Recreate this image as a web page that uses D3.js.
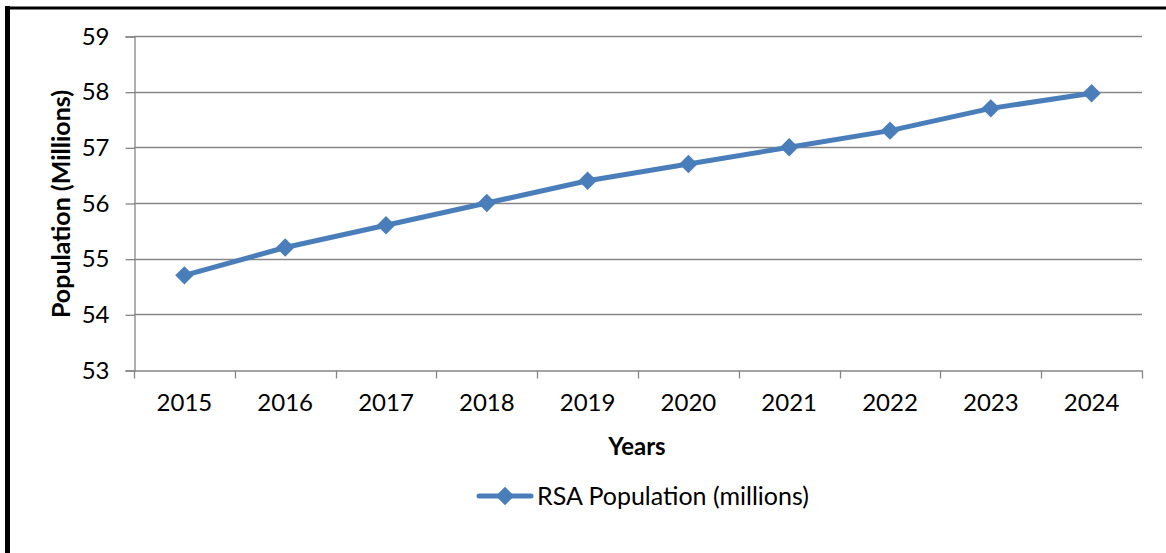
<!DOCTYPE html>
<html>
<head>
<meta charset="utf-8">
<script src="https://cdn.jsdelivr.net/npm/d3@7"></script>
<style>
  html, body { margin: 0; padding: 0; background: #fff; }
  svg { display: block; font-family: Lato, "Open Sans", sans-serif; }
</style>
</head>
<body>
<svg id="chart" width="1166" height="553"></svg>
<script>
// Mid-year population estimates for South Africa, in millions
const years = ["2015", "2016", "2017", "2018", "2019", "2020", "2021", "2022", "2023", "2024"];
const population = [54.7, 55.2, 55.6, 56.0, 56.4, 56.7, 57.0, 57.3, 57.7, 57.97];
const yTicks = [53, 54, 55, 56, 57, 58, 59];
const seriesName = "RSA Population (millions)";

const blue = "#4a7ebb";
const gridGray = "#868686";

const svg = d3.select("#chart");

// outer frame (left and top edges visible)
svg.append("line").attr("x1", 7.5).attr("x2", 7.5).attr("y1", 6).attr("y2", 553)
  .attr("stroke", "#000").attr("stroke-width", 5);
svg.append("line").attr("x1", 5).attr("x2", 1166).attr("y1", 8).attr("y2", 8)
  .attr("stroke", "#000").attr("stroke-width", 3);

const plot = { left: 134, right: 1142, top: 36, bottom: 370 };

const x = d3.scaleBand().domain(years).range([plot.left, plot.right]);
const y = d3.scaleLinear().domain([53, 59]).range([plot.bottom, plot.top]);

// horizontal gridlines
svg.append("g")
  .selectAll("line")
  .data(yTicks.filter(t => t !== 53))
  .join("line")
  .attr("x1", plot.left).attr("x2", plot.right)
  .attr("y1", d => Math.round(y(d)) + 0.5).attr("y2", d => Math.round(y(d)) + 0.5)
  .attr("stroke", gridGray).attr("stroke-width", 1.3);

// y axis
const yAxis = svg.append("g")
  .attr("transform", `translate(${plot.left + 0.5},0.5)`)
  .call(d3.axisLeft(y).tickValues(yTicks).tickSize(9).tickPadding(16).tickFormat(d3.format("d")));
yAxis.select(".domain").attr("stroke", gridGray).attr("stroke-width", 1.3);
yAxis.selectAll(".tick line").attr("stroke", gridGray).attr("stroke-width", 1.3);
yAxis.selectAll(".tick text").attr("font-size", 24).attr("fill", "#000")
  .attr("font-family", "Lato, sans-serif");

// x axis with tick marks at category boundaries
const xAxis = svg.append("g")
  .attr("transform", `translate(0,${plot.bottom + 0.5})`)
  .call(d3.axisBottom(x).tickSize(0).tickPadding(23));
xAxis.select(".domain").attr("stroke", gridGray).attr("stroke-width", 1.3);
xAxis.selectAll(".tick text").attr("font-size", 24).attr("fill", "#000")
  .attr("font-family", "Lato, sans-serif");
xAxis.append("g")
  .selectAll("line")
  .data(years.map(d => x(d)).concat([x(years[years.length - 1]) + x.bandwidth()]))
  .join("line")
  .attr("x1", d => Math.round(d) + 0.5).attr("x2", d => Math.round(d) + 0.5)
  .attr("y1", 0).attr("y2", 8)
  .attr("stroke", gridGray).attr("stroke-width", 1.3);

// axis titles
svg.append("text")
  .attr("transform", `translate(70,${(plot.top + plot.bottom) / 2 + 1}) rotate(-90)`)
  .attr("text-anchor", "middle")
  .attr("font-size", 25).attr("font-weight", "bold")
  .text("Population (Millions)");
svg.append("text")
  .attr("x", 637).attr("y", 455)
  .attr("text-anchor", "middle")
  .attr("font-size", 24).attr("font-weight", "bold")
  .text("Years");

// series line
const cx = d => x(d) + x.bandwidth() / 2;
const pts = years.map((d, i) => [cx(d), y(population[i])]);
svg.append("path")
  .attr("d", d3.line()(pts))
  .attr("fill", "none").attr("stroke", blue)
  .attr("stroke-width", 5).attr("stroke-linejoin", "round").attr("stroke-linecap", "round");

svg.append("g")
  .selectAll("path")
  .data(pts)
  .join("path")
  .attr("transform", d => `translate(${d[0]},${d[1]}) rotate(45)`)
  .attr("d", d3.symbol().type(d3.symbolSquare).size(170))
  .attr("fill", blue);

// legend
const lg = svg.append("g").attr("transform", "translate(0,496)");
lg.append("line").attr("x1", 479).attr("x2", 531).attr("y1", 0).attr("y2", 0)
  .attr("stroke", blue).attr("stroke-width", 5).attr("stroke-linecap", "round");
lg.append("path").attr("transform", "translate(505,0) rotate(45)")
  .attr("d", d3.symbol().type(d3.symbolSquare).size(170)).attr("fill", blue);
lg.append("text").attr("x", 537).attr("y", 9)
  .attr("font-size", 25).attr("fill", "#000")
  .text(seriesName);
</script>
</body>
</html>
